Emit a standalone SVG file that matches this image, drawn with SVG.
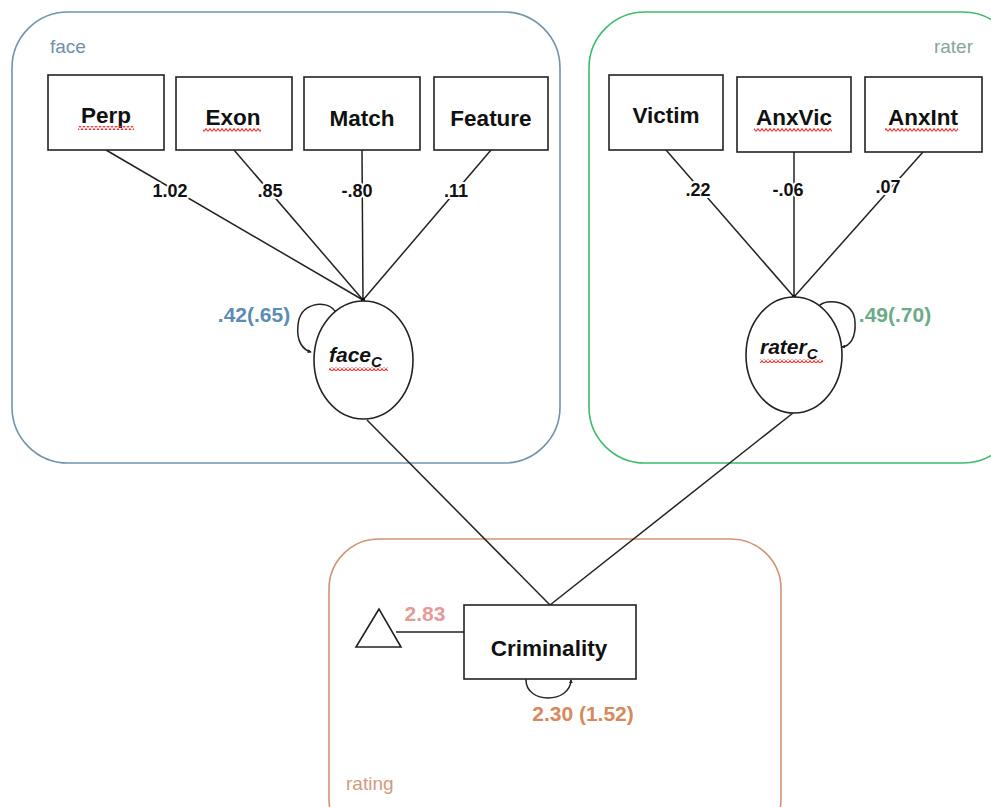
<svg xmlns="http://www.w3.org/2000/svg" width="991" height="807" viewBox="0 0 991 807">
  <style>
    .box { fill: #ffffff; stroke: #222222; stroke-width: 1.6; }
    .lat { fill: #ffffff; stroke: #222222; stroke-width: 1.6; }
    .edge { fill: none; stroke: #222222; stroke-width: 1.5; }
    .name { font-family: "Liberation Sans", Arial, sans-serif; font-weight: bold; font-size: 22.5px; fill: #111111; text-anchor: middle; }
    .latname { font-family: "Liberation Sans", Arial, sans-serif; font-weight: bold; font-style: italic; font-size: 21px; fill: #111111; }
    .w { font-family: "Liberation Sans", Arial, sans-serif; font-weight: bold; font-size: 18px; fill: #111111; text-anchor: middle; stroke: #ffffff; stroke-width: 4; paint-order: stroke; stroke-linejoin: round; }
    .grp { font-family: "Liberation Sans", Arial, sans-serif; font-size: 19px; }
    .est { font-family: "Liberation Sans", Arial, sans-serif; font-weight: bold; font-size: 21px; }
    .squig { fill: url(#squig); }
  </style>
  <defs>
    <pattern id="squig" width="4" height="4" patternUnits="userSpaceOnUse">
      <path d="M0,3.3 L2,0.7 L4,3.3" fill="none" stroke="#e83030" stroke-width="1.1"/>
    </pattern>
    <marker id="tip" viewBox="0 0 6 6" refX="5" refY="3" markerWidth="2.6" markerHeight="2.6" orient="auto">
      <path d="M0,0 L6,3 L0,6 z" fill="#222222"/>
    </marker>
  </defs>

  <rect width="991" height="807" fill="#ffffff"/>

  <!-- cluster frames -->
  <g id="cluster-face">
    <rect x="12" y="12" width="548" height="451" rx="56" fill="none" stroke="#7094ad" stroke-width="1.6"/>
    <text class="grp" x="50" y="53" fill="#6f8ea8">face</text>
  </g>
  <g id="cluster-rater">
    <rect x="589" y="12" width="430" height="451" rx="56" fill="none" stroke="#3fbb6c" stroke-width="1.6"/>
    <text class="grp" x="973" y="53" fill="#86a696" text-anchor="end">rater</text>
  </g>
  <g id="cluster-rating">
    <rect x="329" y="539" width="452" height="310" rx="50" fill="none" stroke="#d09474" stroke-width="1.6"/>
    <text class="grp" x="346" y="790" fill="#d49a80">rating</text>
  </g>

  <!-- connectors -->
  <g id="connectors">
    <line class="edge" x1="106" y1="150" x2="363" y2="300"/>
    <line class="edge" x1="234" y1="150" x2="363" y2="300"/>
    <line class="edge" x1="362" y1="150" x2="363" y2="300"/>
    <line class="edge" x1="491" y1="150" x2="363" y2="300"/>
    <circle cx="363" cy="300" r="2.2" fill="#111111"/>

    <line class="edge" x1="666" y1="150" x2="794" y2="297"/>
    <line class="edge" x1="794" y1="152" x2="794" y2="297"/>
    <line class="edge" x1="923" y1="152" x2="794" y2="297"/>
    <circle cx="794" cy="297" r="2.2" fill="#111111"/>

    <line class="edge" x1="367" y1="420" x2="550" y2="605"/>
    <line class="edge" x1="793" y1="413" x2="550" y2="605"/>

    <line class="edge" x1="396" y1="632" x2="469" y2="632"/>

    <!-- variances -->
    <path class="edge" d="M334,310 C326,300 300,302 298,325 C296,343 304,350 311,352" marker-start="url(#tip)" marker-end="url(#tip)"/>
    <path class="edge" d="M819,306 C826,298 854,300 855,322 C856,338 850,346 842,347" marker-start="url(#tip)" marker-end="url(#tip)"/>
    <path class="edge" d="M526,680 C526,704 570,704 571,680" marker-start="url(#tip)" marker-end="url(#tip)"/>

    <!-- loadings -->
    <text class="w" x="170" y="197">1.02</text>
    <text class="w" x="270" y="197">.85</text>
    <text class="w" x="357" y="197">-.80</text>
    <text class="w" x="456" y="197">.11</text>
    <text class="w" x="698" y="196">.22</text>
    <text class="w" x="788" y="196">-.06</text>
    <text class="w" x="888" y="193">.07</text>

    <!-- estimates -->
    <text class="est" x="254" y="322" fill="#5b8cb3" text-anchor="middle">.42(.65)</text>
    <text class="est" x="895" y="322" fill="#6aab88" text-anchor="middle">.49(.70)</text>
    <text class="est" x="425" y="621" fill="#e59a98" text-anchor="middle">2.83</text>
    <text class="est" x="583" y="721" fill="#d6895c" text-anchor="middle">2.30 (1.52)</text>
  </g>

  <!-- observed indicators -->
  <g id="node-perp">
    <rect class="box" x="48" y="75" width="116" height="75"/>
    <text class="name" x="106" y="123">Perp</text>
    <rect class="squig" x="78" y="126" width="56" height="4"/>
  </g>
  <g id="node-exon">
    <rect class="box" x="176" y="77" width="116" height="73"/>
    <text class="name" x="233" y="125">Exon</text>
    <rect class="squig" x="203" y="128" width="58" height="4"/>
  </g>
  <g id="node-match">
    <rect class="box" x="304" y="77" width="116" height="73"/>
    <text class="name" x="362" y="126">Match</text>
  </g>
  <g id="node-feature">
    <rect class="box" x="434" y="77" width="114" height="73"/>
    <text class="name" x="491" y="126">Feature</text>
  </g>
  <g id="node-victim">
    <rect class="box" x="609" y="75" width="114" height="75"/>
    <text class="name" x="666" y="123">Victim</text>
  </g>
  <g id="node-anxvic">
    <rect class="box" x="737" y="77" width="114" height="75"/>
    <text class="name" x="794" y="125">AnxVic</text>
    <rect class="squig" x="754" y="128" width="78" height="4"/>
  </g>
  <g id="node-anxint">
    <rect class="box" x="865" y="77" width="117" height="75"/>
    <text class="name" x="923" y="125">AnxInt</text>
    <rect class="squig" x="885" y="128" width="73" height="4"/>
  </g>

  <!-- latent factors -->
  <g id="node-face-c">
    <ellipse class="lat" cx="363.5" cy="360" rx="49.5" ry="59"/>
    <text class="latname" x="329" y="362">face<tspan font-size="15" dy="5">C</tspan></text>
    <rect class="squig" x="329" y="367" width="59" height="4"/>
  </g>
  <g id="node-rater-c">
    <ellipse class="lat" cx="794" cy="355" rx="48" ry="58"/>
    <text class="latname" x="760" y="354">rater<tspan font-size="15" dy="5">C</tspan></text>
    <rect class="squig" x="760" y="359" width="63" height="4"/>
  </g>

  <!-- outcome and intercept -->
  <g id="node-criminality">
    <rect class="box" x="464" y="605" width="172" height="74"/>
    <text class="name" x="549" y="656">Criminality</text>
  </g>
  <g id="node-intercept">
    <polygon points="379,609 356,647 401,647" fill="#ffffff" stroke="#222222" stroke-width="1.6"/>
  </g>
</svg>
